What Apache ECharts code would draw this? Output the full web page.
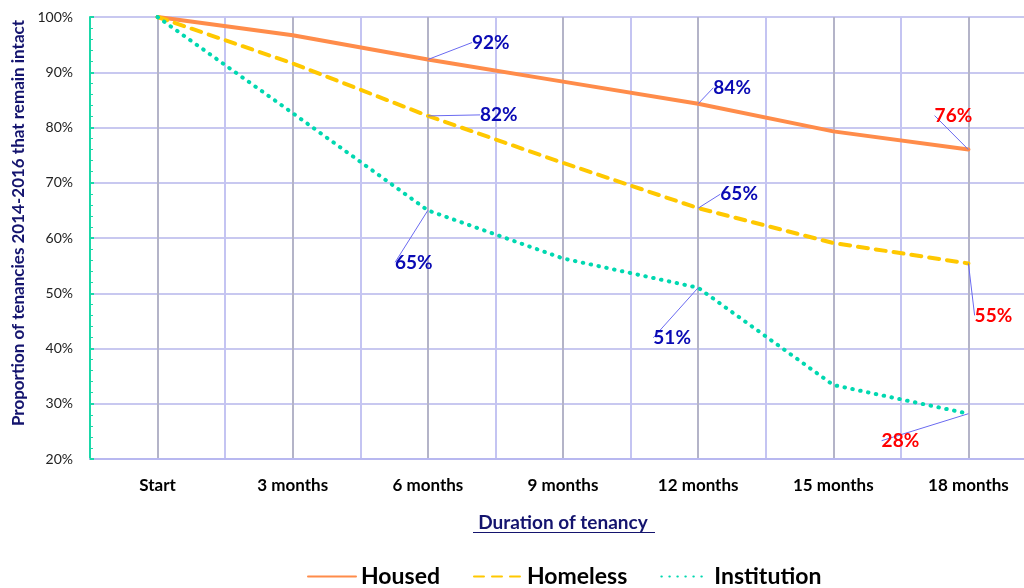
<!DOCTYPE html>
<html>
<head>
<meta charset="utf-8">
<script src="https://cdn.jsdelivr.net/npm/echarts@6/dist/echarts.min.js"></script>
<style>
  html, body { margin: 0; padding: 0; background: #fff; }
  #chart { width: 1024px; height: 588px; }
</style>
</head>
<body>
<div id="chart"></div>
<script>
// months since start of tenancy, and the tick labels shown for them
const months = [0, 3, 6, 9, 12, 15, 18];
const tickLabels = ['Start', '3 months', '6 months', '9 months', '12 months', '15 months', '18 months'];

// % of tenancies still intact
const housed = [100, 96.7, 92.3, 88.3, 84.3, 79.3, 76];
const homeless = [100, 91.6, 82.1, 73.6, 65.4, 59.1, 55.4];
const institution = [100, 82.6, 65, 56.3, 51, 33.4, 28.2];

// which points carry a value label (index into months)
const labelled = [2, 4, 6];

// label offsets from the point: [dx, dy] per series, per labelled point
const labelOffsets = [
    [[63, -17], [34, -16], [-15, -34]],
    [[71, -1], [41, -14], [25, 52]],
    [[-14, 52], [-26, 50], [-68, 27]]
];

const blue = '#0a0ab4';
const red = '#ff0000';
const font = 'Lato, "Open Sans", sans-serif';

const buildData = (values) => {
    return values.map((v, i) => {
        let item = { value: [months[i], v] };
        if (labelled.indexOf(i) >= 0) {
            item.label = {
                show: true,
                color: i === months.length - 1 ? red : blue,
                formatter: Math.round(v) + '%'
            };
        }
        return item;
    });
};

const chart = echarts.init(document.getElementById('chart'));

const lineSeries = (name, values, color, type, width) => {
    return {
        name: name,
        type: 'line',
        data: buildData(values),
        symbol: 'circle',
        symbolSize: 0,
        showAllSymbol: true,
        itemStyle: { color: color },
        lineStyle: { color: color, width: width, type: type, cap: 'round' },
        label: {
            show: false,
            position: 'inside',
            fontFamily: font,
            fontWeight: 'bold',
            fontSize: 19
        },
        labelLine: {
            show: true,
            lineStyle: { color: '#6a6af0', width: 1 }
        },
        emphasis: { disabled: true },
        z: 3
    };
};

const option = {
    animation: false,
    grid: { left: 90, top: 17, width: 946, height: 442, outerBoundsMode: 'none', containLabel: false },
    xAxis: {
        type: 'value',
        min: -1.5,
        max: 19.5,
        interval: 1.5,
        name: 'Duration of tenancy',
        nameLocation: 'middle',
        nameGap: 54,
        nameTextStyle: { fontFamily: font, fontWeight: 'bold', fontSize: 19, color: '#14146e' },
        axisLine: { show: true, onZero: false, lineStyle: { color: '#b8b8f0', width: 2 } },
        axisTick: { show: false },
        axisLabel: {
            margin: 18,
            fontFamily: font,
            fontWeight: 'bold',
            fontSize: 17,
            color: '#000',
            formatter: (v) => {
                const idx = months.indexOf(Math.round(v * 10) / 10);
                return idx >= 0 ? tickLabels[idx] : '';
            }
        },
        splitLine: {
            show: true,
            lineStyle: { color: ['#c4c4f2', '#b4b4c8'], width: 2 }
        }
    },
    yAxis: {
        type: 'value',
        min: 20,
        max: 100,
        interval: 10,
        name: 'Proportion of tenancies 2014-2016 that remain intact',
        nameLocation: 'middle',
        nameGap: 62,
        nameTextStyle: {
            fontFamily: font,
            fontWeight: 'bold',
            fontSize: 17,
            color: '#14146e',
            padding: [0, 0, 0, 30]
        },
        axisLine: { show: true, onZero: false, lineStyle: { color: '#1ad8a8', width: 2 } },
        axisTick: { show: true, inside: true, length: 4, lineStyle: { color: '#1ad8a8', width: 2 } },
        minorTick: { show: true, splitNumber: 5, length: 3, lineStyle: { color: '#1ad8a8', width: 1 } },
        axisLabel: {
            margin: 17,
            fontFamily: font,
            fontSize: 14,
            color: '#222',
            formatter: '{value}%'
        },
        splitLine: { show: true, lineStyle: { color: '#c8c8f0', width: 2 } }
    },
    legend: {
        bottom: -5,
        left: 302,
        itemWidth: 48,
        itemHeight: 14,
        itemGap: 33,
        itemStyle: { opacity: 0 },
        textStyle: { fontFamily: font, fontWeight: 'bold', fontSize: 23, color: '#000' },
        data: ['Housed', 'Homeless', 'Institution']
    },
    graphic: [
        {
            type: 'rect',
            left: 473,
            top: 532,
            shape: { width: 182, height: 1 },
            style: { fill: '#14146e' }
        }
    ],
    labelLayout: (params) => {
        const pos = labelled.indexOf(params.dataIndex);
        if (pos < 0) return {};
        const off = labelOffsets[params.seriesIndex][pos];
        return { dx: off[0], dy: off[1] };
    },
    series: [
        lineSeries('Housed', housed, '#ff8c4a', 'solid', 4),
        lineSeries('Homeless', homeless, '#ffc800', [10, 8], 4),
        lineSeries('Institution', institution, '#00d8b0', [0.5, 7.5], 4)
    ]
};

chart.setOption(option);
</script>
</body>
</html>
